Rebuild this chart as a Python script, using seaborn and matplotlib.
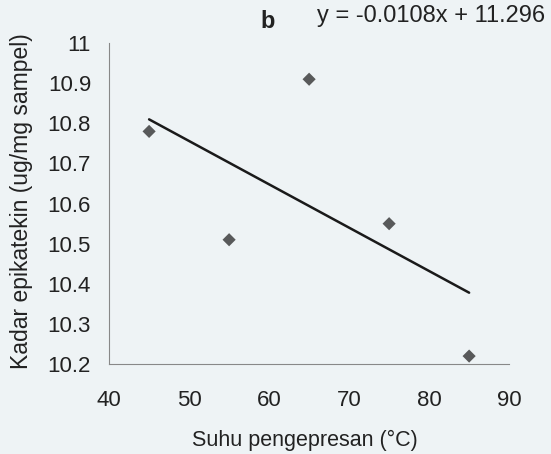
import numpy as np
import pandas as pd
import seaborn as sns
import matplotlib.pyplot as plt

# Data
suhu = [45, 55, 65, 75, 85]
kadar = [10.78, 10.51, 10.91, 10.55, 10.22]
x_ticks = [40, 50, 60, 70, 80, 90]
y_ticks = [10.2, 10.3, 10.4, 10.5, 10.6, 10.7, 10.8, 10.9, 11]
y_tick_labels = ["10.2", "10.3", "10.4", "10.5", "10.6", "10.7", "10.8", "10.9", "11"]

df = pd.DataFrame({"suhu": suhu, "kadar": kadar})

sns.set_style("white")
plt.rcParams["font.family"] = ["Liberation Sans", "DejaVu Sans"]

bg = "#eef3f5"
fig = plt.figure(figsize=(5.51, 4.54), dpi=100, facecolor=bg)
ax = fig.add_axes([0.198, 0.198, 0.726, 0.707], facecolor=bg)

sns.regplot(data=df, x="suhu", y="kadar", ci=None, ax=ax, marker="D",
            scatter_kws={"s": 45, "color": "#333333", "edgecolor": "none"},
            line_kws={"color": "#1a1a1a", "linewidth": 1.8})

ax.set_xlim(40, 90)
ax.set_ylim(10.2, 11)
ax.set_xticks(x_ticks)
ax.set_yticks(y_ticks)
ax.set_yticklabels(y_tick_labels)
ax.tick_params(axis="both", labelsize=16, labelcolor="#222222", length=6,
               width=0.8, direction="out", color="#888888")
ax.tick_params(axis="x", pad=13)
ax.tick_params(axis="y", pad=7)
for s in ["top", "right"]:
    ax.spines[s].set_visible(False)
for s in ["left", "bottom"]:
    ax.spines[s].set_color("#888888")
    ax.spines[s].set_linewidth(0.8)

ax.set_xlabel("Suhu pengepresan (°C)", fontsize=15.5, color="#222222")
ax.set_ylabel("Kadar epikatekin (ug/mg sampel)", fontsize=16.5, color="#222222")
ax.xaxis.set_label_coords(0.49, -0.205)
ax.yaxis.set_label_coords(-0.19, 0.508)

fig.text(0.486, 0.953, "b", fontsize=17, fontweight="bold", ha="center", va="center", color="#222222")
fig.text(0.99, 0.965, "y = -0.0108x + 11.296", fontsize=17, ha="right", va="center", color="#222222")

plt.savefig("out.png", dpi=100, facecolor=bg)
